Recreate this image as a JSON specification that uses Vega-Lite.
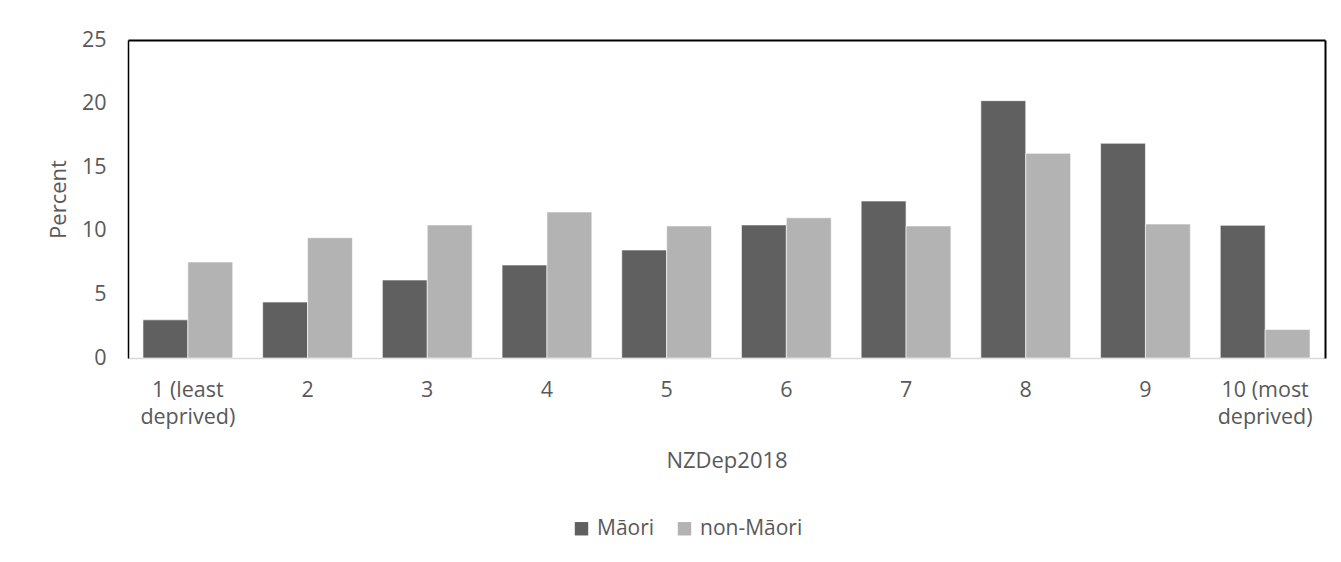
{
  "$schema": "https://vega.github.io/schema/vega-lite/v6.json",
  "width": 1197,
  "height": 318,
  "autosize": {"type": "none"},
  "padding": {"left": 128, "top": 40, "right": 16, "bottom": 204},
  "background": "#ffffff",
  "config": {
    "font": "Open Sans",
    "view": {"stroke": null},
    "axis": {"labelFont": "Open Sans", "titleFont": "Open Sans", "labelColor": "#595959", "titleColor": "#595959", "titleFontWeight": "normal", "grid": false, "ticks": false},
    "legend": {"labelFont": "Open Sans", "labelColor": "#595959"}
  },
  "data": {
    "values": [
      {"dep": "1 (least deprived)", "group": "Māori", "pct": 3.0},
      {"dep": "1 (least deprived)", "group": "non-Māori", "pct": 7.55},
      {"dep": "2", "group": "Māori", "pct": 4.4},
      {"dep": "2", "group": "non-Māori", "pct": 9.45},
      {"dep": "3", "group": "Māori", "pct": 6.13},
      {"dep": "3", "group": "non-Māori", "pct": 10.46},
      {"dep": "4", "group": "Māori", "pct": 7.31},
      {"dep": "4", "group": "non-Māori", "pct": 11.48},
      {"dep": "5", "group": "Māori", "pct": 8.49},
      {"dep": "5", "group": "non-Māori", "pct": 10.38},
      {"dep": "6", "group": "Māori", "pct": 10.46},
      {"dep": "6", "group": "non-Māori", "pct": 11.02},
      {"dep": "7", "group": "Māori", "pct": 12.34},
      {"dep": "7", "group": "non-Māori", "pct": 10.38},
      {"dep": "8", "group": "Māori", "pct": 20.23},
      {"dep": "8", "group": "non-Māori", "pct": 16.09},
      {"dep": "9", "group": "Māori", "pct": 16.88},
      {"dep": "9", "group": "non-Māori", "pct": 10.53},
      {"dep": "10 (most deprived)", "group": "Māori", "pct": 10.43},
      {"dep": "10 (most deprived)", "group": "non-Māori", "pct": 2.25}
    ]
  },
  "layer": [
    {
      "mark": {"type": "bar", "stroke": "#ffffff", "strokeWidth": 0.6},
      "encoding": {
        "x": {
          "field": "dep", "type": "nominal", "sort": null,
          "scale": {"paddingInner": 0.25, "paddingOuter": 0.125},
          "axis": {"title": "NZDep2018", "orient": "bottom", "domainColor": "#d9d9d9", "domainWidth": 1.5, "labelFontSize": 21.5, "titleFontSize": 22, "labelPadding": 21, "labelAngle": 0, "labelLineHeight": 27, "titlePadding": 23, "labelExpr": "datum.label == '1 (least deprived)' ? ['1 (least', 'deprived)'] : datum.label == '10 (most deprived)' ? ['10 (most', 'deprived)'] : datum.label"}
        },
        "xOffset": {"field": "group", "type": "nominal", "sort": null},
        "y": {"field": "pct", "type": "quantitative", "scale": {"domain": [0, 25], "nice": false},
          "axis": {"title": "Percent", "orient": "left", "values": [0, 5, 10, 15, 20, 25], "domainColor": "#000000", "domainWidth": 1.5, "labelFontSize": 21.5, "titleFontSize": 22, "labelPadding": 22, "titlePadding": 11}},
        "color": {
          "field": "group", "type": "nominal", "sort": null,
          "scale": {"domain": ["Māori", "non-Māori"], "range": ["#606060", "#b3b3b3"]},
          "legend": {"title": null, "orient": "none", "direction": "horizontal", "legendX": 443, "legendY": 478, "symbolType": "square", "symbolSize": 180, "symbolStrokeWidth": 0, "columnPadding": 19, "labelOffset": 5, "labelFontSize": 21}
        }
      }
    },
    {
      "mark": {"type": "bar", "opacity": 0},
      "encoding": {
        "x": {"field": "dep", "type": "nominal", "sort": null,
          "axis": {"orient": "top", "title": null, "labels": false, "domainColor": "#000000", "domainWidth": 2}},
        "xOffset": {"field": "group", "type": "nominal", "sort": null},
        "y": {"field": "pct", "type": "quantitative",
          "axis": {"orient": "right", "title": null, "labels": false, "domainColor": "#000000", "domainWidth": 2}}
      }
    }
  ],
  "resolve": {"axis": {"x": "independent", "y": "independent"}}
}
